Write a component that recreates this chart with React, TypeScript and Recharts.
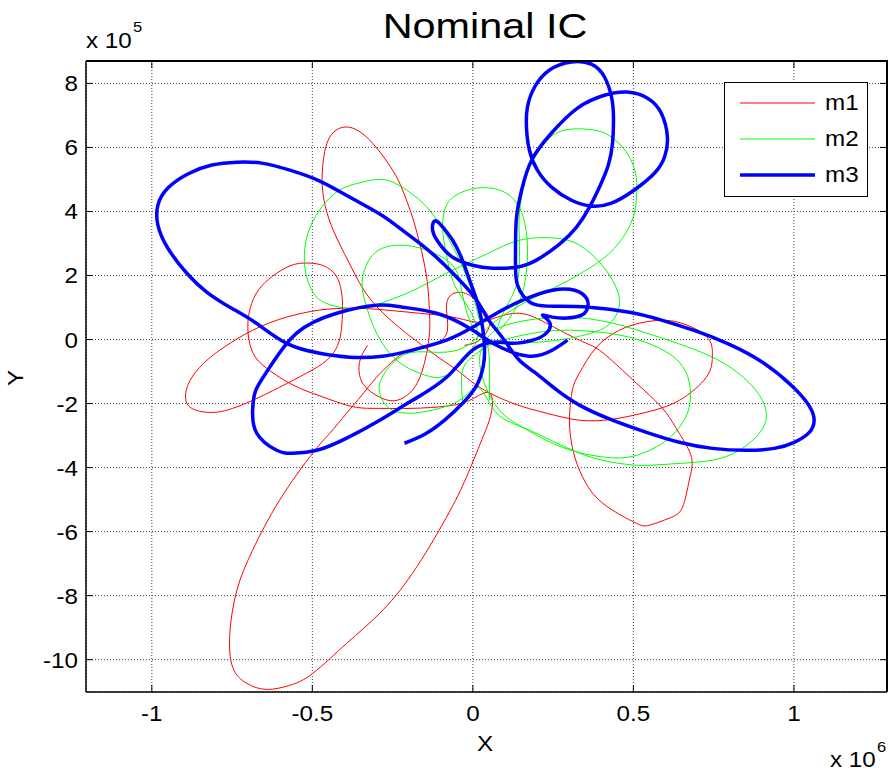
import { LineChart, Line, XAxis, YAxis, CartesianGrid, Legend } from 'recharts'

// axis ticks (x in units of 1e6, y in units of 1e5)
const xTicks = [-1, -0.5, 0, 0.5, 1]
const yTicks = [-10, -8, -6, -4, -2, 0, 2, 4, 6, 8]
const xDomain = [-1.205, 1.29]
const yDomain = [-11.01, 8.7]

// m1 trajectory
const m1X = [
  -0.328, -0.353, -0.343, -0.29, -0.237, -0.188, -0.16, -0.144, -0.135, -0.135,
  -0.144, -0.166, -0.188, -0.219, -0.25, -0.312, -0.384, -0.446, -0.468, -0.468,
  -0.455, -0.424, -0.374, -0.312, -0.219, -0.166, -0.104, -0.041, 0.021, 0.124,
  0.229, 0.332, 0.435, 0.541, 0.643, 0.727, 0.746, 0.737, 0.684, 0.603,
  0.519, 0.457, 0.385, 0.332, 0.31, 0.301, 0.31, 0.332, 0.373, 0.435,
  0.509, 0.55, 0.612, 0.653, 0.674, 0.681, 0.643, 0.603, 0.55, 0.466,
  0.394, 0.332, 0.229, 0.145, 0.068, 0.015, -0.063, -0.166, -0.269, -0.374,
  -0.477, -0.58, -0.686, -0.788, -0.851, -0.888, -0.891, -0.851, -0.798, -0.748,
  -0.686, -0.602, -0.518, -0.455, -0.421, -0.409, -0.406, -0.409, -0.427, -0.462,
  -0.499, -0.555, -0.611, -0.658, -0.689, -0.701, -0.686, -0.642, -0.57, -0.499,
  -0.43, -0.362, -0.29, -0.188, -0.082, -0.01, 0.046, 0.061, 0.046, 0.021,
  -0.02, -0.082, -0.188, -0.29, -0.393, -0.499, -0.57, -0.642, -0.704, -0.748,
  -0.757, -0.735, -0.686, -0.602, -0.499, -0.446, -0.393, -0.346, -0.3, -0.253,
  -0.197, -0.119, -0.079, -0.082, -0.057, -0.01, 0.036, 0.052, 0.021, -0.026,
]
const m1Y = [
  -0.18, -0.71, -1.37, -1.8, -1.9, -1.58, -1.05, -0.43, 0.2, 0.82,
  1.95, 3.01, 3.82, 4.67, 5.29, 6.13, 6.63, 6.32, 5.38, 4.67,
  3.98, 3.17, 2.17, 1.17, 0.29, -0.12, -0.58, -1.02, -1.49, -1.99,
  -2.3, -2.52, -2.49, -2.27, -1.9, -1.18, -0.55, -0.02, 0.38, 0.6,
  0.51, 0.29, -0.24, -1.05, -1.58, -2.52, -3.37, -4.08, -4.8, -5.33,
  -5.74, -5.8, -5.58, -5.24, -4.4, -3.68, -2.93, -2.3, -1.74, -0.96,
  -0.33, -0.02, 0.51, 0.82, 0.67, 0.54, 0.7, 0.82, 0.92, 0.98,
  0.92, 0.7, 0.29, -0.33, -0.87, -1.43, -1.99, -2.24, -2.27, -2.15,
  -1.9, -1.49, -1.05, -0.65, -0.18, 0.35, 0.92, 1.48, 2.01, 2.29,
  2.38, 2.35, 2.07, 1.67, 1.13, 0.38, -0.4, -0.9, -1.37, -1.68,
  -1.93, -2.12, -2.15, -2.15, -2.08, -1.9, -1.65, -2.05, -2.68, -3.3,
  -4.3, -5.55, -7.3, -8.55, -9.49, -10.43, -10.8, -10.93, -10.74, -10.24,
  -9.18, -7.83, -6.58, -5.02, -3.55, -2.93, -2.3, -1.74, -1.18, -0.71,
  -0.33, -0.12, 0.29, 1.07, 1.45, 1.38, 0.92, 0.45, -0.02, -0.18,
]

// m2 trajectory
const m2X = [
  0.052, 0.052, 0.046, 0.021, -0.001, -0.032, -0.073, -0.135, -0.197, -0.269,
  -0.343, -0.415, -0.471, -0.508, -0.524, -0.521, -0.502, -0.471, -0.415, -0.346,
  -0.259, -0.166, -0.063, 0.043, 0.145, 0.254, 0.332, 0.394, 0.435, 0.457,
  0.441, 0.394, 0.301, 0.208, 0.114, 0.036, -0.01, -0.035, -0.063, -0.144,
  -0.228, -0.306, -0.343, -0.337, -0.3, -0.237, -0.166, -0.104, -0.051, -0.01,
  0.015, -0.01, -0.057, -0.082, -0.094, -0.088, -0.057, 0.012, 0.083, 0.13,
  0.158, 0.17, 0.167, 0.152, 0.114, 0.077, 0.099, 0.136, 0.145, 0.145,
  0.145, 0.161, 0.183, 0.223, 0.285, 0.379, 0.432, 0.481, 0.509, 0.509,
  0.494, 0.441, 0.363, 0.27, 0.176, 0.083, 0.021, -0.032, -0.104, -0.188,
  -0.25, -0.29, -0.281, -0.25, -0.188, -0.104, -0.032, 0.021, 0.074, 0.176,
  0.332, 0.457, 0.541, 0.643, 0.746, 0.83, 0.892, 0.914, 0.902, 0.852,
  0.746, 0.581, 0.435, 0.279, 0.124, 0.052, 0.021, 0.052, 0.099, 0.155,
  0.279, 0.416, 0.509, 0.59, 0.643, 0.674, 0.674, 0.643, 0.581, 0.488,
  0.394, 0.301, 0.208, 0.114, 0.052, 0.005, -0.032, -0.032,
]
const m2Y = [
  -1.9, -0.96, -0.18, 0.6, 1.45, 2.26, 3.1, 4.04, 4.6, 4.98,
  4.92, 4.67, 4.13, 3.48, 2.79, 2.1, 1.54, 1.2, 1.01, 0.98,
  1.23, 1.63, 2.17, 2.67, 3.1, 3.17, 2.95, 2.42, 1.85, 1.23,
  0.67, 0.29, 0.04, -0.08, -0.12, -0.02, 0.6, 1.54, 2.32, 2.79,
  2.95, 2.7, 1.95, 1.23, 0.2, -0.65, -1.05, -1.18, -0.9, -0.4,
  0.13, 0.92, 1.7, 2.63, 3.42, 4.04, 4.48, 4.73, 4.67, 4.35,
  3.79, 2.95, 2.17, 1.38, 0.67, 0.29, 0.92, 1.7, 2.48, 3.1,
  3.95, 4.88, 5.51, 6.13, 6.54, 6.54, 6.32, 5.82, 5.07, 4.35,
  3.67, 2.85, 2.23, 1.7, 1.23, 0.67, 0.13, -0.27, -0.4, -0.4,
  -0.74, -1.37, -1.9, -2.21, -2.3, -2.15, -1.83, -1.52, -2.3, -2.83,
  -3.55, -3.87, -3.93, -3.87, -3.77, -3.46, -2.93, -2.43, -1.9, -1.27,
  -0.55, 0.07, 0.51, 0.7, 0.51, 0.13, -0.65, -1.74, -2.37, -2.74,
  -3.37, -3.68, -3.62, -3.24, -2.74, -2.12, -1.33, -0.71, -0.27, 0.07,
  0.23, 0.29, 0.23, 0.04, -0.18, -0.49, -0.96, -1.9,
]

// m3 trajectory
const m3X = [
  -0.213, -0.15, -0.088, -0.032, 0.012, 0.033, 0.036, 0.027, 0.012, -0.01,
  -0.035, -0.063, -0.091, -0.113, -0.125, -0.122, -0.101, -0.063, -0.001, 0.061,
  0.136, 0.198, 0.27, 0.323, 0.363, 0.397, 0.422, 0.435, 0.438, 0.432,
  0.41, 0.369, 0.307, 0.239, 0.192, 0.17, 0.167, 0.176, 0.201, 0.245,
  0.307, 0.369, 0.432, 0.503, 0.566, 0.597, 0.606, 0.587, 0.544, 0.481,
  0.41, 0.326, 0.245, 0.183, 0.152, 0.136, 0.133, 0.133, 0.139, 0.158,
  0.192, 0.254, 0.363, 0.488, 0.59, 0.696, 0.799, 0.902, 0.995, 1.048,
  1.063, 1.048, 1.001, 0.939, 0.852, 0.746, 0.643, 0.541, 0.435, 0.332,
  0.254, 0.192, 0.145, 0.105, 0.074, 0.043, 0.012, -0.041, -0.104, -0.166,
  -0.228, -0.29, -0.384, -0.477, -0.57, -0.658, -0.735, -0.813, -0.888, -0.95,
  -0.981, -0.981, -0.95, -0.891, -0.829, -0.757, -0.679, -0.58, -0.477, -0.384,
  -0.281, -0.188, -0.082, -0.001, 0.074, 0.155, 0.248, 0.317, 0.354, 0.357,
  0.338, 0.295, 0.248, 0.217, 0.239, 0.229, 0.186, 0.124, 0.074, -0.001,
  -0.082, -0.188, -0.29, -0.393, -0.486, -0.561, -0.611, -0.673, -0.686, -0.676,
  -0.633, -0.549, -0.424, -0.3, -0.219, -0.113, -0.01, 0.074, 0.176, 0.248, 0.295,
]
const m3Y = [
  -3.24, -2.96, -2.52, -1.99, -1.43, -0.8, -0.18, 0.6, 1.23, 1.85,
  2.54, 3.1, 3.48, 3.7, 3.6, 3.29, 2.95, 2.57, 2.32, 2.23,
  2.26, 2.48, 2.98, 3.51, 4.13, 4.82, 5.45, 6.13, 6.95, 7.57,
  8.2, 8.6, 8.67, 8.42, 7.88, 7.26, 6.63, 5.92, 5.29, 4.76,
  4.35, 4.17, 4.26, 4.67, 5.2, 5.7, 6.32, 7.07, 7.54, 7.73,
  7.63, 7.23, 6.45, 5.6, 4.67, 3.82, 2.95, 2.17, 1.7, 1.35,
  1.1, 1.04, 1.01, 0.85, 0.6, 0.26, -0.15, -0.71, -1.46, -2.08,
  -2.52, -2.9, -3.21, -3.4, -3.46, -3.4, -3.21, -2.9, -2.52, -2.05,
  -1.52, -1.02, -0.65, -0.12, 0.29, 0.7, 1.23, 1.85, 2.48, 3.01,
  3.48, 3.92, 4.45, 4.95, 5.29, 5.51, 5.54, 5.45, 5.17, 4.73,
  4.2, 3.57, 2.85, 2.07, 1.48, 1.01, 0.54, -0.12, -0.43, -0.55,
  -0.52, -0.33, -0.02, 0.38, 0.82, 1.23, 1.54, 1.54, 1.29, 0.98,
  0.76, 0.67, 0.7, 0.76, 0.54, 0.2, -0.02, -0.12, -0.08, -0.33,
  -1.18, -1.9, -2.52, -3.08, -3.46, -3.55, -3.46, -2.93, -2.21, -1.58,
  -0.87, 0.2, 0.82, 1.07, 1.01, 0.82, 0.35, -0.18, -0.52, -0.33, -0.02,
]

const toPoints = (xs: number[], ys: number[]) => xs.map((x, i) => ({ x, y: ys[i] }))

const series = [
  { name: 'm1', color: '#ff0000', width: 1, data: toPoints(m1X, m1Y) },
  { name: 'm2', color: '#00ff00', width: 1, data: toPoints(m2X, m2Y) },
  { name: 'm3', color: '#0000ff', width: 3.5, data: toPoints(m3X, m3Y) },
]

const FONT = '"Liberation Sans", Arial, Helvetica, sans-serif'

// plot box (matches the chart margins + axis sizes below)
const W = 894
const H = 772
const PLOT = { left: 86, top: 61, right: 887, bottom: 692 }
const sx = (v: number) =>
  PLOT.left + ((v - xDomain[0]) / (xDomain[1] - xDomain[0])) * (PLOT.right - PLOT.left)
const sy = (v: number) =>
  PLOT.top + ((yDomain[1] - v) / (yDomain[1] - yDomain[0])) * (PLOT.bottom - PLOT.top)

const BottomTick = (props: any) => {
  const { x, y, payload } = props
  return (
    <g>
      <line x1={x} x2={x} y1={y} y2={y - 7} stroke="#000" />
      <text
        transform={`translate(${x},${y + 29}) scale(1.1,1)`}
        textAnchor="middle"
        fontSize={22}
        fontFamily={FONT}
        fill="#000"
      >
        {payload.value}
      </text>
    </g>
  )
}

const LeftTick = (props: any) => {
  const { x, y, payload } = props
  return (
    <g>
      <line x1={x} x2={x + 7} y1={y} y2={y} stroke="#000" />
      <text
        transform={`translate(${x - 8},${y + 8}) scale(1.1,1)`}
        textAnchor="end"
        fontSize={22}
        fontFamily={FONT}
        fill="#000"
      >
        {payload.value}
      </text>
    </g>
  )
}

const LegendBox = () => (
  <div
    style={{
      width: 144,
      height: 115,
      border: '1px solid #000',
      background: '#fff',
      boxSizing: 'border-box',
      position: 'relative',
    }}
  >
    {series.map((s, i) => (
      <div
        key={s.name}
        style={{
          position: 'absolute',
          left: 15,
          top: 8 + i * 36,
          height: 24,
          display: 'flex',
          alignItems: 'center',
        }}
      >
        <svg width={75} height={24}>
          <line x1={0} x2={75} y1={12} y2={12} stroke={s.color} strokeWidth={s.width} />
        </svg>
        <span
          style={{
            marginLeft: 10,
            fontSize: 22,
            fontFamily: FONT,
            color: '#000',
            display: 'inline-block',
            transform: 'scaleX(1.1)',
            transformOrigin: 'left center',
          }}
        >
          {s.name}
        </span>
      </div>
    ))}
  </div>
)

export default function App() {
  return (
    <div
      style={{
        position: 'absolute',
        left: 0,
        top: 0,
        width: W,
        height: H,
        background: '#fff',
        fontFamily: FONT,
      }}
    >
      <LineChart
        width={W}
        height={H}
        margin={{ top: PLOT.top, right: W - PLOT.right, bottom: H - PLOT.bottom - 40, left: PLOT.left - 60 }}
      >
        <CartesianGrid stroke="#444" strokeDasharray="1 2" />
        {/* solid top / right edges of the box */}
        <CartesianGrid
          horizontalPoints={[PLOT.top]}
          verticalPoints={[PLOT.right]}
          stroke="#000"
          strokeWidth={1.6}
        />
        <XAxis
          dataKey="x"
          type="number"
          domain={xDomain}
          ticks={xTicks}
          interval={0}
          allowDataOverflow
          height={40}
          tickSize={0}
          tickMargin={0}
          tickLine={false}
          tick={BottomTick}
          axisLine={{ stroke: '#000', strokeWidth: 1.5 }}
        />
        <YAxis
          type="number"
          domain={yDomain}
          ticks={yTicks}
          interval={0}
          allowDataOverflow
          width={60}
          tickSize={0}
          tickMargin={0}
          tickLine={false}
          tick={LeftTick}
          axisLine={{ stroke: '#000', strokeWidth: 1.5 }}
        />
        <Legend
          layout="vertical"
          align="center"
          verticalAlign="middle"
          content={LegendBox}
          wrapperStyle={{ position: 'absolute', left: 724, top: 82, width: 144, height: 115 }}
        />
        {series.map((s) => (
          <Line
            key={s.name}
            name={s.name}
            data={s.data}
            dataKey="y"
            type="natural"
            stroke={s.color}
            strokeWidth={s.width}
            dot={false}
            activeDot={false}
            isAnimationActive={false}
          />
        ))}
      </LineChart>
      {/* top and right edges of the box */}
      <div
        style={{
          position: 'absolute',
          left: PLOT.left,
          top: PLOT.top - 1,
          width: PLOT.right - PLOT.left + 1,
          height: PLOT.bottom - PLOT.top + 1,
          borderTop: '2px solid #000',
          borderRight: '2px solid #000',
          boxSizing: 'border-box',
          pointerEvents: 'none',
          zIndex: 20,
        }}
      />
      <svg
        width={W}
        height={H}
        style={{ position: 'absolute', left: 0, top: 0, pointerEvents: 'none', zIndex: 10 }}
        fontFamily={FONT}
      >
        {xTicks.map((t) => (
          <rect key={`tx${t}`} x={sx(t) - 0.5} y={PLOT.top} width={1} height={7} fill="#000" />
        ))}
        {yTicks.map((t) => (
          <rect key={`ty${t}`} x={PLOT.right - 7} y={sy(t) - 0.5} width={7} height={1} fill="#000" />
        ))}
        <text transform="translate(485,38) scale(1.15,1)" textAnchor="middle" fontSize={36} fill="#000">
          Nominal IC
        </text>
        <text transform="translate(86,48) scale(1.1,1)" fontSize={22} fill="#000">
          x 10
        </text>
        <text transform="translate(133,32) scale(1.1,1)" fontSize={15} fill="#000">
          5
        </text>
        <text transform="translate(830,767) scale(1.1,1)" fontSize={22} fill="#000">
          x 10
        </text>
        <text transform="translate(877,752) scale(1.1,1)" fontSize={15} fill="#000">
          6
        </text>
        <text transform="translate(485,751) scale(1.1,1)" textAnchor="middle" fontSize={22} fill="#000">
          X
        </text>
        <text transform="translate(23,378) rotate(-90) scale(1.1,1)" textAnchor="middle" fontSize={22} fill="#000">
          Y
        </text>
      </svg>
    </div>
  )
}
